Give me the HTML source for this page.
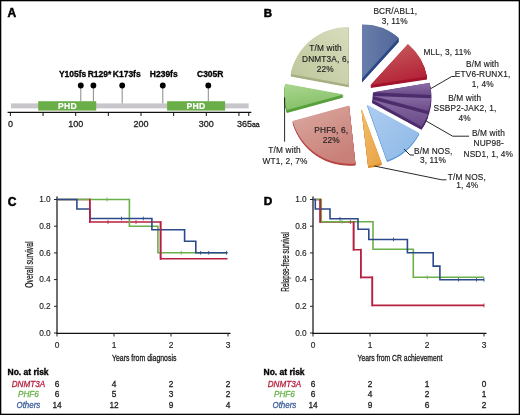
<!DOCTYPE html>
<html><head><meta charset="utf-8">
<style>
html,body{margin:0;padding:0;background:#fff;}
body{width:520px;height:415px;overflow:hidden;}
svg{display:block;filter:blur(0.3px);font-family:"Liberation Sans",sans-serif;}
.km{fill:none;stroke-width:1.6;stroke-linejoin:miter;stroke-linecap:butt;}
</style></head>
<body>
<svg width="520" height="415" viewBox="0 0 520 415">
<rect x="0" y="0" width="520" height="415" fill="#fff"/>
<rect x="0.65" y="0.65" width="518.7" height="413.7" fill="none" stroke="#000" stroke-width="1.3"/>
<text x="7.6" y="17.1" font-size="12" fill="#000" stroke="#000" stroke-width="0.5" font-weight="bold">A</text>
<text x="263.7" y="17.3" font-size="11.5" fill="#000" stroke="#000" stroke-width="0.5" font-weight="bold">B</text>
<text x="7.7" y="205.5" font-size="12" fill="#000" stroke="#000" stroke-width="0.5" font-weight="bold">C</text>
<text x="263.8" y="205.4" font-size="11.8" fill="#000" stroke="#000" stroke-width="0.5" font-weight="bold">D</text>
<rect x="11" y="103.4" width="237.7" height="5" fill="#c8c6ca"/>
<rect x="38.2" y="101.2" width="58" height="9.4" fill="#6aae48"/>
<rect x="167.1" y="101.2" width="58" height="9.4" fill="#6aae48"/>
<text x="67.4" y="108.7" font-size="8.6" fill="#fff" stroke="#fff" stroke-width="0.2" text-anchor="middle" font-weight="bold" letter-spacing="0.3">PHD</text>
<text x="196.1" y="108.7" font-size="8.6" fill="#fff" stroke="#fff" stroke-width="0.2" text-anchor="middle" font-weight="bold" letter-spacing="0.3">PHD</text>
<line x1="80.8" y1="85.5" x2="80.8" y2="101.2" stroke="#8a8a8a" stroke-width="1"/>
<line x1="93.4" y1="85.5" x2="93.4" y2="101.2" stroke="#8a8a8a" stroke-width="1"/>
<line x1="122.2" y1="85.5" x2="122.2" y2="103.4" stroke="#8a8a8a" stroke-width="1"/>
<line x1="162.8" y1="85.5" x2="162.8" y2="103.4" stroke="#8a8a8a" stroke-width="1"/>
<line x1="208.3" y1="85.5" x2="208.3" y2="101.2" stroke="#8a8a8a" stroke-width="1"/>
<circle cx="80.8" cy="85.5" r="2.9" fill="#000"/>
<circle cx="93.4" cy="85.5" r="2.9" fill="#000"/>
<circle cx="122.2" cy="85.5" r="2.9" fill="#000"/>
<circle cx="162.8" cy="85.5" r="2.9" fill="#000"/>
<circle cx="208.3" cy="85.5" r="2.9" fill="#000"/>
<text x="58.9" y="77.2" font-size="8.5" fill="#000" stroke="#000" stroke-width="0.3" font-weight="bold">Y105fs</text>
<text x="87.7" y="77.2" font-size="8.5" fill="#000" stroke="#000" stroke-width="0.3" font-weight="bold">R129*</text>
<text x="112.8" y="77.2" font-size="8.5" fill="#000" stroke="#000" stroke-width="0.3" font-weight="bold">K173fs</text>
<text x="149.8" y="77.2" font-size="8.5" fill="#000" stroke="#000" stroke-width="0.3" font-weight="bold">H239fs</text>
<text x="197.0" y="77.2" font-size="8.5" fill="#000" stroke="#000" stroke-width="0.3" font-weight="bold">C305R</text>
<line x1="7.6" y1="112.3" x2="251.3" y2="112.3" stroke="#111" stroke-width="1.2"/>
<line x1="10.40" y1="112" x2="10.40" y2="116" stroke="#111" stroke-width="1"/>
<line x1="43.05" y1="112" x2="43.05" y2="116" stroke="#111" stroke-width="1"/>
<line x1="75.70" y1="112" x2="75.70" y2="116" stroke="#111" stroke-width="1"/>
<line x1="108.35" y1="112" x2="108.35" y2="116" stroke="#111" stroke-width="1"/>
<line x1="141.00" y1="112" x2="141.00" y2="116" stroke="#111" stroke-width="1"/>
<line x1="173.65" y1="112" x2="173.65" y2="116" stroke="#111" stroke-width="1"/>
<line x1="206.30" y1="112" x2="206.30" y2="116" stroke="#111" stroke-width="1"/>
<line x1="238.95" y1="112" x2="238.95" y2="116" stroke="#111" stroke-width="1"/>
<line x1="248.75" y1="112" x2="248.75" y2="116" stroke="#111" stroke-width="1"/>
<text x="10.5" y="126.5" font-size="9" fill="#1a1a1a" stroke="#1a1a1a" stroke-width="0.28" text-anchor="middle">0</text>
<text x="75.7" y="126.5" font-size="9" fill="#1a1a1a" stroke="#1a1a1a" stroke-width="0.28" text-anchor="middle">100</text>
<text x="141" y="126.5" font-size="9" fill="#1a1a1a" stroke="#1a1a1a" stroke-width="0.28" text-anchor="middle">200</text>
<text x="206.3" y="126.5" font-size="9" fill="#1a1a1a" stroke="#1a1a1a" stroke-width="0.28" text-anchor="middle">300</text>
<text x="236.9" y="126.5" font-size="9" fill="#1a1a1a" stroke="#1a1a1a" stroke-width="0.28">365<tspan font-size="6.9">aa</tspan></text>
<defs>
<path id="s1" d="M362,78.5 L362,24.6 A55,55 0 0 1 398.8,38 Z"/>
<linearGradient id="gs1" x1="0" y1="0" x2="1" y2="0"><stop offset="0" stop-color="#6a7eaa"/><stop offset="1" stop-color="#52669a"/></linearGradient>
<path id="s2" d="M370.5,85 L407.9,44 A57,57 0 0 1 427,76.5 Z"/>
<linearGradient id="gs2" x1="0" y1="0" x2="0.4" y2="1"><stop offset="0" stop-color="#ca6262"/><stop offset="1" stop-color="#b42438"/></linearGradient>
<path id="s3" d="M373,92.3 L429.6,82.7 A57,57 0 0 1 431,95 Z"/>
<linearGradient id="gs3" x1="0" y1="0" x2="0" y2="1"><stop offset="0" stop-color="#8a6ea6"/><stop offset="1" stop-color="#6c4c8a"/></linearGradient>
<path id="s4" d="M373,96 L431,98.2 A57,57 0 0 1 428.3,111 Z"/>
<linearGradient id="gs4" x1="0" y1="0" x2="0" y2="1"><stop offset="0" stop-color="#886ca4"/><stop offset="1" stop-color="#6c4c8a"/></linearGradient>
<path id="s5" d="M372,99.5 L428,114.3 A57,57 0 0 1 421.5,126.5 Z"/>
<linearGradient id="gs5" x1="0" y1="0" x2="0" y2="1"><stop offset="0" stop-color="#866aa2"/><stop offset="1" stop-color="#6a4a88"/></linearGradient>
<path id="s6" d="M367.2,104.7 L419.2,132.9 A59,59 0 0 1 387.1,160.4 Z"/>
<linearGradient id="gs6" x1="0" y1="0" x2="1" y2="1"><stop offset="0" stop-color="#aecdf0"/><stop offset="1" stop-color="#8cb8e6"/></linearGradient>
<path id="s7" d="M361.5,108.4 L381.7,163 A58,58 0 0 1 368.2,166 Z"/>
<linearGradient id="gs7" x1="0" y1="0" x2="1" y2="1"><stop offset="0" stop-color="#f2be6c"/><stop offset="1" stop-color="#e8a244"/></linearGradient>
<path id="s8" d="M349.1,105.4 L355.5,163.5 A59,59 0 0 1 292.6,121.1 Z"/>
<linearGradient id="gs8" x1="0" y1="0" x2="0.6" y2="1"><stop offset="0" stop-color="#dcaaa2"/><stop offset="1" stop-color="#c88078"/></linearGradient>
<path id="s9" d="M343.6,94.5 L286.8,110 A58,58 0 0 1 285.1,83.7 Z"/>
<linearGradient id="gs9" x1="0" y1="0" x2="0.3" y2="1"><stop offset="0" stop-color="#aad690"/><stop offset="1" stop-color="#86c068"/></linearGradient>
<path id="s10" d="M348.6,84.8 L290.8,74 A58,58 0 0 1 348.6,27 Z"/>
<linearGradient id="gs10" x1="1" y1="0" x2="0" y2="1"><stop offset="0" stop-color="#d8ddbe"/><stop offset="1" stop-color="#bcc699"/></linearGradient>
</defs>
<path d="M373,92.5 L429.6,83 A57,57 0 0 1 421.5,129.8 L372,103 Z" fill="#4c2c6c"/>
<use href="#s1" fill="#2a4886" transform="translate(0,0.5)"/>
<use href="#s1" fill="#2a4886" transform="translate(0,1.0)"/>
<use href="#s1" fill="#2a4886" transform="translate(0,1.5)"/>
<use href="#s1" fill="#2a4886" transform="translate(0,2.0)"/>
<use href="#s1" fill="#2a4886" transform="translate(0,2.5)"/>
<use href="#s1" fill="#2a4886" transform="translate(0,3.0)"/>
<use href="#s1" fill="#2a4886" transform="translate(0,3.5)"/>
<use href="#s1" fill="#2a4886" transform="translate(0,4.0)"/>
<use href="#s2" fill="#a3142c" transform="translate(0,0.5)"/>
<use href="#s2" fill="#a3142c" transform="translate(0,1.0)"/>
<use href="#s2" fill="#a3142c" transform="translate(0,1.5)"/>
<use href="#s2" fill="#a3142c" transform="translate(0,2.0)"/>
<use href="#s2" fill="#a3142c" transform="translate(0,2.5)"/>
<use href="#s2" fill="#a3142c" transform="translate(0,3.0)"/>
<use href="#s3" fill="#4c2c6c" transform="translate(0,0.5)"/>
<use href="#s3" fill="#4c2c6c" transform="translate(0,1.0)"/>
<use href="#s3" fill="#4c2c6c" transform="translate(0,1.5)"/>
<use href="#s3" fill="#4c2c6c" transform="translate(0,2.0)"/>
<use href="#s3" fill="#4c2c6c" transform="translate(0,2.5)"/>
<use href="#s3" fill="#4c2c6c" transform="translate(0,3.0)"/>
<use href="#s4" fill="#4c2c6c" transform="translate(0,0.5)"/>
<use href="#s4" fill="#4c2c6c" transform="translate(0,1.0)"/>
<use href="#s4" fill="#4c2c6c" transform="translate(0,1.5)"/>
<use href="#s4" fill="#4c2c6c" transform="translate(0,2.0)"/>
<use href="#s4" fill="#4c2c6c" transform="translate(0,2.5)"/>
<use href="#s4" fill="#4c2c6c" transform="translate(0,3.0)"/>
<use href="#s5" fill="#4c2c6c" transform="translate(0,0.5)"/>
<use href="#s5" fill="#4c2c6c" transform="translate(0,1.0)"/>
<use href="#s5" fill="#4c2c6c" transform="translate(0,1.5)"/>
<use href="#s5" fill="#4c2c6c" transform="translate(0,2.0)"/>
<use href="#s5" fill="#4c2c6c" transform="translate(0,2.5)"/>
<use href="#s5" fill="#4c2c6c" transform="translate(0,3.0)"/>
<use href="#s6" fill="#5a98d8" transform="translate(0,0.5)"/>
<use href="#s6" fill="#5a98d8" transform="translate(0,1.0)"/>
<use href="#s6" fill="#5a98d8" transform="translate(0,1.5)"/>
<use href="#s7" fill="#dc8c2c" transform="translate(0,0.5)"/>
<use href="#s7" fill="#dc8c2c" transform="translate(0,1.0)"/>
<use href="#s7" fill="#dc8c2c" transform="translate(0,1.5)"/>
<use href="#s7" fill="#dc8c2c" transform="translate(0,2.0)"/>
<use href="#s8" fill="#b84444" transform="translate(0,0.5)"/>
<use href="#s8" fill="#b84444" transform="translate(0,1.0)"/>
<use href="#s8" fill="#b84444" transform="translate(0,1.5)"/>
<use href="#s8" fill="#b84444" transform="translate(0,2.0)"/>
<use href="#s9" fill="#58a03c" transform="translate(0,0.5)"/>
<use href="#s9" fill="#58a03c" transform="translate(0,1.0)"/>
<use href="#s9" fill="#58a03c" transform="translate(0,1.5)"/>
<use href="#s9" fill="#58a03c" transform="translate(0,2.0)"/>
<use href="#s9" fill="#58a03c" transform="translate(0,2.5)"/>
<use href="#s9" fill="#58a03c" transform="translate(0,3.0)"/>
<use href="#s10" fill="#a6ae84" transform="translate(0,0.5)"/>
<use href="#s10" fill="#a6ae84" transform="translate(0,1.0)"/>
<use href="#s10" fill="#a6ae84" transform="translate(0,1.5)"/>
<use href="#s10" fill="#a6ae84" transform="translate(0,2.0)"/>
<use href="#s10" fill="#a6ae84" transform="translate(0,2.5)"/>
<use href="#s1" fill="url(#gs1)"/>
<use href="#s2" fill="url(#gs2)"/>
<use href="#s3" fill="url(#gs3)"/>
<use href="#s4" fill="url(#gs4)"/>
<use href="#s5" fill="url(#gs5)"/>
<use href="#s6" fill="url(#gs6)"/>
<use href="#s7" fill="url(#gs7)"/>
<use href="#s8" fill="url(#gs8)"/>
<use href="#s9" fill="url(#gs9)"/>
<use href="#s10" fill="url(#gs10)"/>
<polyline points="431,88.5 451.7,76.5 455,76.5" stroke="#111" stroke-width="0.9" fill="none"/>
<polyline points="425.8,120.8 452.7,136.2 469,136.2" stroke="#111" stroke-width="0.9" fill="none"/>
<polyline points="404,149 410,155 414,155" stroke="#111" stroke-width="0.9" fill="none"/>
<polyline points="374.4,166 441.7,179.8 446.5,179.8" stroke="#111" stroke-width="0.9" fill="none"/>
<polyline points="284.6,97.4 284.6,141.7" stroke="#111" stroke-width="0.9" fill="none"/>
<text x="395.3" y="13.899999999999999" font-size="8.3" fill="#1e1e1e" stroke="#1e1e1e" stroke-width="0.15" text-anchor="middle" letter-spacing="0.15">BCR/ABL1,</text>
<text x="394.70000000000005" y="24.3" font-size="8.3" fill="#1e1e1e" stroke="#1e1e1e" stroke-width="0.15" text-anchor="middle" letter-spacing="0.15">3, 11%</text>
<text x="447.20000000000005" y="54.7" font-size="8.3" fill="#1e1e1e" stroke="#1e1e1e" stroke-width="0.15" text-anchor="middle" letter-spacing="0.15">MLL, 3, 11%</text>
<text x="482.6" y="67.2" font-size="8.3" fill="#1e1e1e" stroke="#1e1e1e" stroke-width="0.15" text-anchor="middle" letter-spacing="0.15">B/M with</text>
<text x="482.6" y="77.2" font-size="8.3" fill="#1e1e1e" stroke="#1e1e1e" stroke-width="0.15" text-anchor="middle" letter-spacing="0.15">ETV6-RUNX1,</text>
<text x="482.8" y="86.7" font-size="8.3" fill="#1e1e1e" stroke="#1e1e1e" stroke-width="0.15" text-anchor="middle" letter-spacing="0.15">1, 4%</text>
<text x="464.70000000000005" y="100.7" font-size="8.3" fill="#1e1e1e" stroke="#1e1e1e" stroke-width="0.15" text-anchor="middle" letter-spacing="0.15">B/M with</text>
<text x="465.0" y="110.9" font-size="8.3" fill="#1e1e1e" stroke="#1e1e1e" stroke-width="0.15" text-anchor="middle" letter-spacing="0.15">SSBP2-JAK2, 1,</text>
<text x="464.6" y="120.5" font-size="8.3" fill="#1e1e1e" stroke="#1e1e1e" stroke-width="0.15" text-anchor="middle" letter-spacing="0.15">4%</text>
<text x="488.40000000000003" y="135.89999999999998" font-size="8.3" fill="#1e1e1e" stroke="#1e1e1e" stroke-width="0.15" text-anchor="middle" letter-spacing="0.15">B/M with</text>
<text x="488.70000000000005" y="145.89999999999998" font-size="8.3" fill="#1e1e1e" stroke="#1e1e1e" stroke-width="0.15" text-anchor="middle" letter-spacing="0.15">NUP98-</text>
<text x="488.3" y="156.6" font-size="8.3" fill="#1e1e1e" stroke="#1e1e1e" stroke-width="0.15" text-anchor="middle" letter-spacing="0.15">NSD1, 1, 4%</text>
<text x="433.3" y="153.89999999999998" font-size="8.3" fill="#1e1e1e" stroke="#1e1e1e" stroke-width="0.15" text-anchor="middle" letter-spacing="0.15">B/M NOS,</text>
<text x="433.0" y="163.39999999999998" font-size="8.3" fill="#1e1e1e" stroke="#1e1e1e" stroke-width="0.15" text-anchor="middle" letter-spacing="0.15">3, 11%</text>
<text x="466.90000000000003" y="180.29999999999998" font-size="8.3" fill="#1e1e1e" stroke="#1e1e1e" stroke-width="0.15" text-anchor="middle" letter-spacing="0.15">T/M NOS,</text>
<text x="467.20000000000005" y="188.39999999999998" font-size="8.3" fill="#1e1e1e" stroke="#1e1e1e" stroke-width="0.15" text-anchor="middle" letter-spacing="0.15">1, 4%</text>
<text x="284.6" y="153.29999999999998" font-size="8.3" fill="#1e1e1e" stroke="#1e1e1e" stroke-width="0.15" text-anchor="middle" letter-spacing="0.15">T/M with</text>
<text x="285.0" y="163.89999999999998" font-size="8.3" fill="#1e1e1e" stroke="#1e1e1e" stroke-width="0.15" text-anchor="middle" letter-spacing="0.15">WT1, 2, 7%</text>
<text x="331.3" y="132.7" font-size="8.3" fill="#1e1e1e" stroke="#1e1e1e" stroke-width="0.15" text-anchor="middle" letter-spacing="0.15">PHF6, 6,</text>
<text x="331.3" y="142.7" font-size="8.3" fill="#1e1e1e" stroke="#1e1e1e" stroke-width="0.15" text-anchor="middle" letter-spacing="0.15">22%</text>
<text x="325.6" y="51.300000000000004" font-size="8.3" fill="#1e1e1e" stroke="#1e1e1e" stroke-width="0.15" text-anchor="middle" letter-spacing="0.15">T/M with</text>
<text x="325.6" y="61.900000000000006" font-size="8.3" fill="#1e1e1e" stroke="#1e1e1e" stroke-width="0.15" text-anchor="middle" letter-spacing="0.15">DNMT3A, 6,</text>
<text x="325.3" y="71.7" font-size="8.3" fill="#1e1e1e" stroke="#1e1e1e" stroke-width="0.15" text-anchor="middle" letter-spacing="0.15">22%</text>
<line x1="57" y1="196.5" x2="57" y2="334" stroke="#222" stroke-width="1.3"/>
<line x1="56.4" y1="333.3" x2="230.5" y2="333.3" stroke="#111" stroke-width="1.2"/>
<line x1="54" y1="199.5" x2="57" y2="199.5" stroke="#222" stroke-width="1"/>
<text x="50.7" y="202.3" font-size="8.3" fill="#1a1a1a" stroke="#1a1a1a" stroke-width="0.12" text-anchor="end">1.0</text>
<line x1="54" y1="226.2" x2="57" y2="226.2" stroke="#222" stroke-width="1"/>
<text x="50.7" y="229.0" font-size="8.3" fill="#1a1a1a" stroke="#1a1a1a" stroke-width="0.12" text-anchor="end">0.8</text>
<line x1="54" y1="252.9" x2="57" y2="252.9" stroke="#222" stroke-width="1"/>
<text x="50.7" y="255.70000000000002" font-size="8.3" fill="#1a1a1a" stroke="#1a1a1a" stroke-width="0.12" text-anchor="end">0.6</text>
<line x1="54" y1="279.6" x2="57" y2="279.6" stroke="#222" stroke-width="1"/>
<text x="50.7" y="282.40000000000003" font-size="8.3" fill="#1a1a1a" stroke="#1a1a1a" stroke-width="0.12" text-anchor="end">0.4</text>
<line x1="54" y1="306.3" x2="57" y2="306.3" stroke="#222" stroke-width="1"/>
<text x="50.7" y="309.1" font-size="8.3" fill="#1a1a1a" stroke="#1a1a1a" stroke-width="0.12" text-anchor="end">0.2</text>
<line x1="54" y1="333.0" x2="57" y2="333.0" stroke="#222" stroke-width="1"/>
<text x="50.7" y="335.8" font-size="8.3" fill="#1a1a1a" stroke="#1a1a1a" stroke-width="0.12" text-anchor="end">0.0</text>
<line x1="57" y1="333" x2="57" y2="336.5" stroke="#222" stroke-width="1"/>
<text x="57" y="347.8" font-size="8.4" fill="#1a1a1a" stroke="#1a1a1a" stroke-width="0.15" text-anchor="middle">0</text>
<line x1="114" y1="333" x2="114" y2="336.5" stroke="#222" stroke-width="1"/>
<text x="114" y="347.8" font-size="8.4" fill="#1a1a1a" stroke="#1a1a1a" stroke-width="0.15" text-anchor="middle">1</text>
<line x1="171" y1="333" x2="171" y2="336.5" stroke="#222" stroke-width="1"/>
<text x="171" y="347.8" font-size="8.4" fill="#1a1a1a" stroke="#1a1a1a" stroke-width="0.15" text-anchor="middle">2</text>
<line x1="228" y1="333" x2="228" y2="336.5" stroke="#222" stroke-width="1"/>
<text x="228" y="347.8" font-size="8.4" fill="#1a1a1a" stroke="#1a1a1a" stroke-width="0.15" text-anchor="middle">3</text>
<text x="112" y="361" font-size="9.2" fill="#1a1a1a" stroke="#1a1a1a" stroke-width="0.3" textLength="64.4" lengthAdjust="spacingAndGlyphs">Years from diagnosis</text>
<text transform="translate(33.3,287.7) rotate(-90)" font-size="10.6" fill="#1a1a1a" stroke="#1a1a1a" stroke-width="0.25" textLength="46.2" lengthAdjust="spacingAndGlyphs">Overall survival</text>
<path class="km" stroke="#b8203f" d="M57,199.5 H89.8 V222 H160.6 V258.8 H227.5"/>
<path class="km" stroke="#6ab04a" d="M57,199.5 H129.4 V226.3 H157.9 V252.8 H227.5"/>
<path class="km" stroke="#2c4a8a" d="M57,199.5 H76.9 V209 H89.8 V218.5 H151.9 V229.8 H184.6 V241.2 H195.8 V252.8 H227.5"/>
<path class="km" stroke="#b8203f" d="M89.8,198.65 V222.85 M160.6,221.15 V259.65000000000003"/>
<path stroke="#b8203f" stroke-width="0.85" d="M108,220.1 V223.9 M136,220.1 V223.9"/>
<path stroke="#6ab04a" stroke-width="0.85" d="M107,197.6 V201.4 M181.3,250.9 V254.70000000000002"/>
<path stroke="#2c4a8a" stroke-width="0.85" d="M121.5,216.6 V220.4 M143.3,216.6 V220.4 M200.6,250.9 V254.70000000000002 M208.7,250.9 V254.70000000000002 M226.5,250.9 V254.70000000000002"/>
<text x="7.5" y="374.8" font-size="8.5" fill="#000" stroke="#000" stroke-width="0.35" font-weight="bold">No. at risk</text>
<text x="28.4" y="387.1" font-size="8.8" fill="#b8203f" stroke="#b8203f" stroke-width="0.28" text-anchor="middle" font-style="italic" textLength="33.4" lengthAdjust="spacingAndGlyphs">DNMT3A</text>
<text x="57" y="387.1" font-size="8.3" fill="#1a1a1a" stroke="#1a1a1a" stroke-width="0.28" text-anchor="middle">6</text>
<text x="114" y="387.1" font-size="8.3" fill="#1a1a1a" stroke="#1a1a1a" stroke-width="0.28" text-anchor="middle">4</text>
<text x="171" y="387.1" font-size="8.3" fill="#1a1a1a" stroke="#1a1a1a" stroke-width="0.28" text-anchor="middle">2</text>
<text x="228" y="387.1" font-size="8.3" fill="#1a1a1a" stroke="#1a1a1a" stroke-width="0.28" text-anchor="middle">2</text>
<text x="28.4" y="397.2" font-size="8.8" fill="#6ab04a" stroke="#6ab04a" stroke-width="0.28" text-anchor="middle" font-style="italic" textLength="20.9" lengthAdjust="spacingAndGlyphs">PHF6</text>
<text x="57" y="397.2" font-size="8.3" fill="#1a1a1a" stroke="#1a1a1a" stroke-width="0.28" text-anchor="middle">6</text>
<text x="114" y="397.2" font-size="8.3" fill="#1a1a1a" stroke="#1a1a1a" stroke-width="0.28" text-anchor="middle">5</text>
<text x="171" y="397.2" font-size="8.3" fill="#1a1a1a" stroke="#1a1a1a" stroke-width="0.28" text-anchor="middle">3</text>
<text x="228" y="397.2" font-size="8.3" fill="#1a1a1a" stroke="#1a1a1a" stroke-width="0.28" text-anchor="middle">2</text>
<text x="28.4" y="407.5" font-size="8.8" fill="#3a5a9a" stroke="#3a5a9a" stroke-width="0.28" text-anchor="middle" font-style="italic" textLength="23.8" lengthAdjust="spacingAndGlyphs">Others</text>
<text x="57" y="407.5" font-size="8.3" fill="#1a1a1a" stroke="#1a1a1a" stroke-width="0.28" text-anchor="middle">14</text>
<text x="114" y="407.5" font-size="8.3" fill="#1a1a1a" stroke="#1a1a1a" stroke-width="0.28" text-anchor="middle">12</text>
<text x="171" y="407.5" font-size="8.3" fill="#1a1a1a" stroke="#1a1a1a" stroke-width="0.28" text-anchor="middle">9</text>
<text x="228" y="407.5" font-size="8.3" fill="#1a1a1a" stroke="#1a1a1a" stroke-width="0.28" text-anchor="middle">4</text>
<line x1="313" y1="196.5" x2="313" y2="334" stroke="#222" stroke-width="1.3"/>
<line x1="312.4" y1="333.3" x2="486.5" y2="333.3" stroke="#111" stroke-width="1.2"/>
<line x1="310" y1="199.5" x2="313" y2="199.5" stroke="#222" stroke-width="1"/>
<text x="306.7" y="202.3" font-size="8.3" fill="#1a1a1a" stroke="#1a1a1a" stroke-width="0.12" text-anchor="end">1.0</text>
<line x1="310" y1="226.2" x2="313" y2="226.2" stroke="#222" stroke-width="1"/>
<text x="306.7" y="229.0" font-size="8.3" fill="#1a1a1a" stroke="#1a1a1a" stroke-width="0.12" text-anchor="end">0.8</text>
<line x1="310" y1="252.9" x2="313" y2="252.9" stroke="#222" stroke-width="1"/>
<text x="306.7" y="255.70000000000002" font-size="8.3" fill="#1a1a1a" stroke="#1a1a1a" stroke-width="0.12" text-anchor="end">0.6</text>
<line x1="310" y1="279.6" x2="313" y2="279.6" stroke="#222" stroke-width="1"/>
<text x="306.7" y="282.40000000000003" font-size="8.3" fill="#1a1a1a" stroke="#1a1a1a" stroke-width="0.12" text-anchor="end">0.4</text>
<line x1="310" y1="306.3" x2="313" y2="306.3" stroke="#222" stroke-width="1"/>
<text x="306.7" y="309.1" font-size="8.3" fill="#1a1a1a" stroke="#1a1a1a" stroke-width="0.12" text-anchor="end">0.2</text>
<line x1="310" y1="333.0" x2="313" y2="333.0" stroke="#222" stroke-width="1"/>
<text x="306.7" y="335.8" font-size="8.3" fill="#1a1a1a" stroke="#1a1a1a" stroke-width="0.12" text-anchor="end">0.0</text>
<line x1="313" y1="333" x2="313" y2="336.5" stroke="#222" stroke-width="1"/>
<text x="313" y="347.8" font-size="8.4" fill="#1a1a1a" stroke="#1a1a1a" stroke-width="0.15" text-anchor="middle">0</text>
<line x1="370" y1="333" x2="370" y2="336.5" stroke="#222" stroke-width="1"/>
<text x="370" y="347.8" font-size="8.4" fill="#1a1a1a" stroke="#1a1a1a" stroke-width="0.15" text-anchor="middle">1</text>
<line x1="427" y1="333" x2="427" y2="336.5" stroke="#222" stroke-width="1"/>
<text x="427" y="347.8" font-size="8.4" fill="#1a1a1a" stroke="#1a1a1a" stroke-width="0.15" text-anchor="middle">2</text>
<line x1="484" y1="333" x2="484" y2="336.5" stroke="#222" stroke-width="1"/>
<text x="484" y="347.8" font-size="8.4" fill="#1a1a1a" stroke="#1a1a1a" stroke-width="0.15" text-anchor="middle">3</text>
<text x="357.5" y="361" font-size="9.2" fill="#1a1a1a" stroke="#1a1a1a" stroke-width="0.3" textLength="85" lengthAdjust="spacingAndGlyphs">Years from CR achievement</text>
<text transform="translate(289.2,291.7) rotate(-90)" font-size="10.6" fill="#1a1a1a" stroke="#1a1a1a" stroke-width="0.25" textLength="59.7" lengthAdjust="spacingAndGlyphs">Relapse-free survival</text>
<path class="km" stroke="#b8203f" d="M313,199.5 H320.2 V222 H353.6 V249.7 H360.8 V277.4 H372.3 V305.4 H484"/>
<path class="km" stroke="#6ab04a" d="M313,199.5 H321.3 V221.7 H373 V249.2 H413.3 V277.3 H484"/>
<path class="km" stroke="#2c4a8a" d="M313,199.5 H315.3 V209 H330 V218.8 H358 V229.2 H368.8 V239.5 H407.4 V252.7 H433.2 V266.1 H439.9 V279.8 H484"/>
<path class="km" stroke="#b8203f" d="M320.2,198.65 V222.85 M353.6,221.15 V250.54999999999998 M360.8,248.85 V278.25 M372.3,276.54999999999995 V306.25"/>
<path stroke="#b8203f" stroke-width="0.85" d="M350.4,220.1 V223.9 M484,303.5 V307.29999999999995"/>
<path stroke="#6ab04a" stroke-width="0.85" d="M342,219.79999999999998 V223.6 M427.3,275.40000000000003 V279.2"/>
<path stroke="#2c4a8a" stroke-width="0.85" d="M340,216.9 V220.70000000000002 M393.5,237.6 V241.4 M458.6,277.90000000000003 V281.7 M476.5,277.90000000000003 V281.7 M484,277.90000000000003 V281.7"/>
<text x="263.5" y="374.8" font-size="8.5" fill="#000" stroke="#000" stroke-width="0.35" font-weight="bold">No. at risk</text>
<text x="284.4" y="387.1" font-size="8.8" fill="#b8203f" stroke="#b8203f" stroke-width="0.28" text-anchor="middle" font-style="italic" textLength="33.4" lengthAdjust="spacingAndGlyphs">DNMT3A</text>
<text x="313" y="387.1" font-size="8.3" fill="#1a1a1a" stroke="#1a1a1a" stroke-width="0.28" text-anchor="middle">6</text>
<text x="370" y="387.1" font-size="8.3" fill="#1a1a1a" stroke="#1a1a1a" stroke-width="0.28" text-anchor="middle">2</text>
<text x="427" y="387.1" font-size="8.3" fill="#1a1a1a" stroke="#1a1a1a" stroke-width="0.28" text-anchor="middle">1</text>
<text x="484" y="387.1" font-size="8.3" fill="#1a1a1a" stroke="#1a1a1a" stroke-width="0.28" text-anchor="middle">0</text>
<text x="284.4" y="397.2" font-size="8.8" fill="#6ab04a" stroke="#6ab04a" stroke-width="0.28" text-anchor="middle" font-style="italic" textLength="20.9" lengthAdjust="spacingAndGlyphs">PHF6</text>
<text x="313" y="397.2" font-size="8.3" fill="#1a1a1a" stroke="#1a1a1a" stroke-width="0.28" text-anchor="middle">6</text>
<text x="370" y="397.2" font-size="8.3" fill="#1a1a1a" stroke="#1a1a1a" stroke-width="0.28" text-anchor="middle">4</text>
<text x="427" y="397.2" font-size="8.3" fill="#1a1a1a" stroke="#1a1a1a" stroke-width="0.28" text-anchor="middle">2</text>
<text x="484" y="397.2" font-size="8.3" fill="#1a1a1a" stroke="#1a1a1a" stroke-width="0.28" text-anchor="middle">1</text>
<text x="284.4" y="407.5" font-size="8.8" fill="#3a5a9a" stroke="#3a5a9a" stroke-width="0.28" text-anchor="middle" font-style="italic" textLength="23.8" lengthAdjust="spacingAndGlyphs">Others</text>
<text x="313" y="407.5" font-size="8.3" fill="#1a1a1a" stroke="#1a1a1a" stroke-width="0.28" text-anchor="middle">14</text>
<text x="370" y="407.5" font-size="8.3" fill="#1a1a1a" stroke="#1a1a1a" stroke-width="0.28" text-anchor="middle">9</text>
<text x="427" y="407.5" font-size="8.3" fill="#1a1a1a" stroke="#1a1a1a" stroke-width="0.28" text-anchor="middle">6</text>
<text x="484" y="407.5" font-size="8.3" fill="#1a1a1a" stroke="#1a1a1a" stroke-width="0.28" text-anchor="middle">2</text>
</svg>
</body></html>
